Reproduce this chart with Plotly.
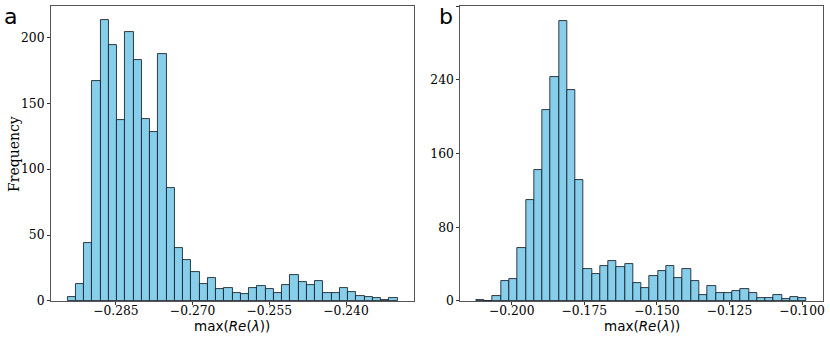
from plotly import graph_objects as go
from plotly.subplots import make_subplots

# panel a: histogram counts (40 bins)
a_counts = [3, 13, 44, 167, 213, 194, 137, 204, 183, 138, 128, 187, 86, 40, 31, 22, 13, 17, 9, 10,
            6, 5, 10, 11, 9, 6, 12, 20, 14, 12, 15, 6, 6, 10, 7, 4, 3, 2, 1, 2]
a_bin_start = -0.29445
a_bin_width = 0.001614

# panel b: histogram counts (40 bins)
b_counts = [1, 0, 5, 22, 24, 57, 110, 142, 207, 243, 304, 229, 131, 35, 29, 38, 43, 37, 40, 19,
            14, 27, 32, 38, 25, 35, 22, 6, 16, 9, 9, 11, 13, 9, 3, 3, 6, 2, 4, 3]
b_bin_start = -0.2122
b_bin_width = 0.002845

x_title = 'max(<i>Re</i>(<i>λ</i>))'
y_title = 'Frequency'


def centers(start, width, n):
	return [start + width * (i + 0.5) for i in range(n)]


fig = make_subplots(rows=1, cols=2)

fig.add_trace(go.Bar(
	x=centers(a_bin_start, a_bin_width, len(a_counts)),
	y=a_counts,
	width=a_bin_width,
	marker=dict(color='#87CEEB', line=dict(color='rgba(20,30,40,0.85)', width=1)),
	showlegend=False
), row=1, col=1)

fig.add_trace(go.Bar(
	x=centers(b_bin_start, b_bin_width, len(b_counts)),
	y=b_counts,
	width=b_bin_width,
	marker=dict(color='#87CEEB', line=dict(color='rgba(20,30,40,0.85)', width=1)),
	showlegend=False
), row=1, col=2)

axis_style = dict(
	showline=True, mirror=True, linecolor='#555555', linewidth=1,
	showgrid=False, zeroline=False, automargin=False,
	ticks='outside', ticklen=3, tickcolor='#333333',
	tickfont=dict(family='DejaVu Serif', size=12.3, color='black'),
)

fig.update_xaxes(axis_style)
fig.update_yaxes(axis_style)

fig.update_xaxes(domain=[0.0614, 0.4988], range=[-0.2977, -0.2267],
	tick0=-0.285, dtick=0.015, tickformat='.3f', ticklabelstandoff=-5, row=1, col=1)
fig.update_xaxes(domain=[0.5546, 0.9919], range=[-0.2177, -0.0927],
	tick0=-0.2, dtick=0.025, tickformat='.3f', ticklabelstandoff=-5, row=1, col=2)
fig.update_yaxes(domain=[0.107, 0.982], range=[0, 223.7], dtick=50, row=1, col=1)
fig.update_yaxes(domain=[0.107, 0.982], range=[0, 320], dtick=80, row=1, col=2)

title_font = dict(family='DejaVu Sans', size=13.5, color='black')
fig.add_annotation(text=x_title, x=232 / 830, y=1 - 326 / 337, xref='paper', yref='paper',
	xanchor='center', yanchor='middle', showarrow=False, font=title_font)
fig.add_annotation(text=x_title, x=641.7 / 830, y=1 - 326 / 337, xref='paper', yref='paper',
	xanchor='center', yanchor='middle', showarrow=False, font=title_font)
fig.add_annotation(text=y_title, x=14 / 830, y=1 - 154 / 337, xref='paper', yref='paper', textangle=-90,
	xanchor='center', yanchor='middle', showarrow=False,
	font=dict(family='DejaVu Serif', size=14, color='black'))

fig.add_annotation(text='a', x=0.003, y=0.994, xref='paper', yref='paper', xanchor='left', yanchor='top',
	showarrow=False, font=dict(family='DejaVu Sans', size=22, color='black'))
fig.add_annotation(text='b', x=0.526, y=0.994, xref='paper', yref='paper', xanchor='left', yanchor='top',
	showarrow=False, font=dict(family='DejaVu Sans', size=22, color='black'))

fig.update_layout(
	width=830,
	height=337,
	margin=dict(l=0, r=0, t=0, b=0),
	bargap=0,
	plot_bgcolor='white',
	paper_bgcolor='white',
)

# drop the default page margin so the figure sits at the window corner
fig.write_html("out.html", config={'displayModeBar': False},
	post_script="document.body.style.margin='0';")
